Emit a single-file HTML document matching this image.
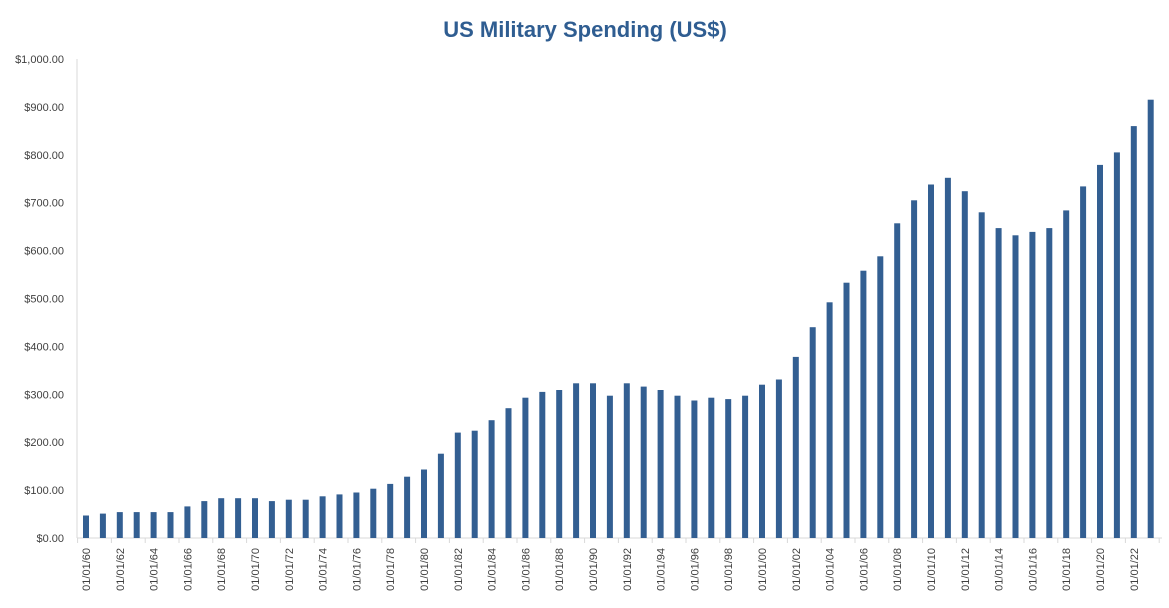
<!DOCTYPE html>
<html><head><meta charset="utf-8"><style>body{margin:0;background:#fff}svg{display:block}</style></head><body>
<svg width="1169" height="608" xmlns="http://www.w3.org/2000/svg" font-family="Liberation Sans, sans-serif">
<text x="585" y="37" text-anchor="middle" font-size="22" font-weight="bold" fill="#2f5d91">US Military Spending (US$)</text>
<line x1="77" y1="59" x2="77" y2="538" stroke="#d9d9d9"/>
<line x1="77" y1="538" x2="1162" y2="538" stroke="#d9d9d9"/>
<path stroke="#d9d9d9" d="M77.6 538v5M111.4 538v5M145.2 538v5M179 538v5M212.8 538v5M246.6 538v5M280.4 538v5M314.2 538v5M348 538v5M381.8 538v5M415.6 538v5M449.4 538v5M483.2 538v5M517 538v5M550.8 538v5M584.6 538v5M618.4 538v5M652.2 538v5M686 538v5M719.8 538v5M753.6 538v5M787.4 538v5M821.2 538v5M855 538v5M888.8 538v5M922.6 538v5M956.4 538v5M990.2 538v5M1024 538v5M1057.8 538v5M1091.6 538v5M1125.4 538v5M1159.2 538v5"/>
<g font-size="11" fill="#404040" text-anchor="end">
<text x="64" y="542">$0.00</text><text x="64" y="494.1">$100.00</text><text x="64" y="446.2">$200.00</text><text x="64" y="398.3">$300.00</text><text x="64" y="350.4">$400.00</text><text x="64" y="302.5">$500.00</text><text x="64" y="254.6">$600.00</text><text x="64" y="206.7">$700.00</text><text x="64" y="158.8">$800.00</text><text x="64" y="110.9">$900.00</text><text x="64" y="63">$1,000.00</text>
<text transform="translate(90,548) rotate(-90)">01/01/60</text>
<text transform="translate(123.8,548) rotate(-90)">01/01/62</text>
<text transform="translate(157.6,548) rotate(-90)">01/01/64</text>
<text transform="translate(191.4,548) rotate(-90)">01/01/66</text>
<text transform="translate(225.2,548) rotate(-90)">01/01/68</text>
<text transform="translate(259,548) rotate(-90)">01/01/70</text>
<text transform="translate(292.8,548) rotate(-90)">01/01/72</text>
<text transform="translate(326.6,548) rotate(-90)">01/01/74</text>
<text transform="translate(360.4,548) rotate(-90)">01/01/76</text>
<text transform="translate(394.2,548) rotate(-90)">01/01/78</text>
<text transform="translate(428,548) rotate(-90)">01/01/80</text>
<text transform="translate(461.8,548) rotate(-90)">01/01/82</text>
<text transform="translate(495.6,548) rotate(-90)">01/01/84</text>
<text transform="translate(529.4,548) rotate(-90)">01/01/86</text>
<text transform="translate(563.2,548) rotate(-90)">01/01/88</text>
<text transform="translate(597,548) rotate(-90)">01/01/90</text>
<text transform="translate(630.8,548) rotate(-90)">01/01/92</text>
<text transform="translate(664.6,548) rotate(-90)">01/01/94</text>
<text transform="translate(698.4,548) rotate(-90)">01/01/96</text>
<text transform="translate(732.2,548) rotate(-90)">01/01/98</text>
<text transform="translate(766,548) rotate(-90)">01/01/00</text>
<text transform="translate(799.8,548) rotate(-90)">01/01/02</text>
<text transform="translate(833.6,548) rotate(-90)">01/01/04</text>
<text transform="translate(867.4,548) rotate(-90)">01/01/06</text>
<text transform="translate(901.2,548) rotate(-90)">01/01/08</text>
<text transform="translate(935,548) rotate(-90)">01/01/10</text>
<text transform="translate(968.8,548) rotate(-90)">01/01/12</text>
<text transform="translate(1002.6,548) rotate(-90)">01/01/14</text>
<text transform="translate(1036.4,548) rotate(-90)">01/01/16</text>
<text transform="translate(1070.2,548) rotate(-90)">01/01/18</text>
<text transform="translate(1104,548) rotate(-90)">01/01/20</text>
<text transform="translate(1137.8,548) rotate(-90)">01/01/22</text>
</g>
<g fill="#335f92">
<rect x="83" y="515.5" width="6" height="22.5"/>
<rect x="99.9" y="513.6" width="6" height="24.4"/>
<rect x="116.8" y="512.1" width="6" height="25.9"/>
<rect x="133.7" y="512.1" width="6" height="25.9"/>
<rect x="150.6" y="512.1" width="6" height="25.9"/>
<rect x="167.5" y="512.1" width="6" height="25.9"/>
<rect x="184.4" y="506.4" width="6" height="31.6"/>
<rect x="201.3" y="501.1" width="6" height="36.9"/>
<rect x="218.2" y="498.2" width="6" height="39.8"/>
<rect x="235.1" y="498.2" width="6" height="39.8"/>
<rect x="252" y="498.2" width="6" height="39.8"/>
<rect x="268.9" y="501.1" width="6" height="36.9"/>
<rect x="285.8" y="499.7" width="6" height="38.3"/>
<rect x="302.7" y="499.7" width="6" height="38.3"/>
<rect x="319.6" y="496.3" width="6" height="41.7"/>
<rect x="336.5" y="494.4" width="6" height="43.6"/>
<rect x="353.4" y="492.5" width="6" height="45.5"/>
<rect x="370.3" y="488.7" width="6" height="49.3"/>
<rect x="387.2" y="483.9" width="6" height="54.1"/>
<rect x="404.1" y="476.7" width="6" height="61.3"/>
<rect x="421" y="469.5" width="6" height="68.5"/>
<rect x="437.9" y="453.7" width="6" height="84.3"/>
<rect x="454.8" y="432.6" width="6" height="105.4"/>
<rect x="471.7" y="430.7" width="6" height="107.3"/>
<rect x="488.6" y="420.2" width="6" height="117.8"/>
<rect x="505.5" y="408.2" width="6" height="129.8"/>
<rect x="522.4" y="397.7" width="6" height="140.3"/>
<rect x="539.3" y="391.9" width="6" height="146.1"/>
<rect x="556.2" y="390" width="6" height="148"/>
<rect x="573.1" y="383.3" width="6" height="154.7"/>
<rect x="590" y="383.3" width="6" height="154.7"/>
<rect x="606.9" y="395.7" width="6" height="142.3"/>
<rect x="623.8" y="383.3" width="6" height="154.7"/>
<rect x="640.7" y="386.6" width="6" height="151.4"/>
<rect x="657.6" y="390" width="6" height="148"/>
<rect x="674.5" y="395.7" width="6" height="142.3"/>
<rect x="691.4" y="400.5" width="6" height="137.5"/>
<rect x="708.3" y="397.7" width="6" height="140.3"/>
<rect x="725.2" y="399.1" width="6" height="138.9"/>
<rect x="742.1" y="395.7" width="6" height="142.3"/>
<rect x="759" y="384.7" width="6" height="153.3"/>
<rect x="775.9" y="379.5" width="6" height="158.5"/>
<rect x="792.8" y="356.9" width="6" height="181.1"/>
<rect x="809.7" y="327.2" width="6" height="210.8"/>
<rect x="826.6" y="302.3" width="6" height="235.7"/>
<rect x="843.5" y="282.7" width="6" height="255.3"/>
<rect x="860.4" y="270.7" width="6" height="267.3"/>
<rect x="877.3" y="256.3" width="6" height="281.7"/>
<rect x="894.2" y="223.3" width="6" height="314.7"/>
<rect x="911.1" y="200.3" width="6" height="337.7"/>
<rect x="928" y="184.5" width="6" height="353.5"/>
<rect x="944.9" y="177.8" width="6" height="360.2"/>
<rect x="961.8" y="191.2" width="6" height="346.8"/>
<rect x="978.7" y="212.3" width="6" height="325.7"/>
<rect x="995.6" y="228.1" width="6" height="309.9"/>
<rect x="1012.5" y="235.3" width="6" height="302.7"/>
<rect x="1029.4" y="231.9" width="6" height="306.1"/>
<rect x="1046.3" y="228.1" width="6" height="309.9"/>
<rect x="1063.2" y="210.4" width="6" height="327.6"/>
<rect x="1080.1" y="186.4" width="6" height="351.6"/>
<rect x="1097" y="164.9" width="6" height="373.1"/>
<rect x="1113.9" y="152.4" width="6" height="385.6"/>
<rect x="1130.8" y="126.1" width="6" height="411.9"/>
<rect x="1147.7" y="99.7" width="6" height="438.3"/>
</g>
</svg>
</body></html>
